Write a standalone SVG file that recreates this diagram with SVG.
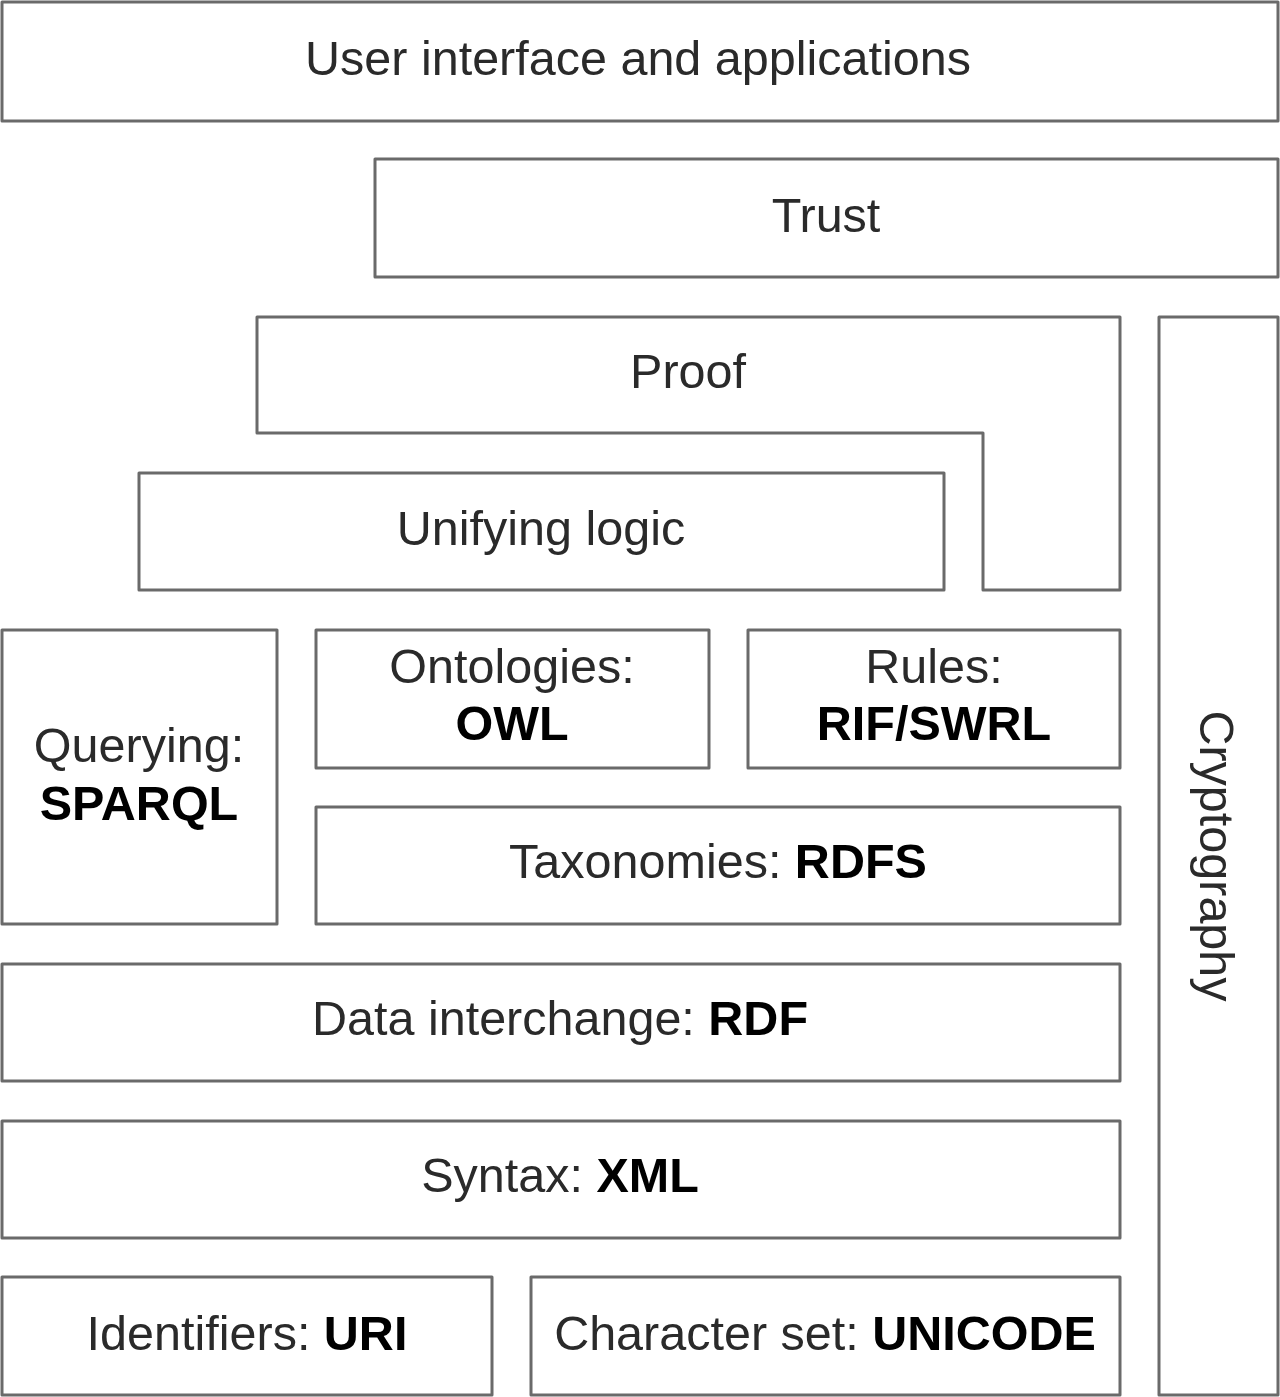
<svg xmlns="http://www.w3.org/2000/svg" width="1280" height="1397" viewBox="0 0 1280 1397">
<style>
.b{fill:#fff;stroke:#6a6a6a;stroke-width:3;stroke-linejoin:round}
text{font-family:"Liberation Sans",Arial,sans-serif;font-size:48.5px;fill:#2a2a2a;text-anchor:middle}
.k{font-weight:bold;fill:#000}
</style>
<rect width="1280" height="1397" fill="#fff"/>
<g id="ui"><rect class="b" x="2" y="2" width="1276" height="119"/><text x="638" y="75">User interface and applications</text></g>
<g id="trust"><rect class="b" x="375" y="159" width="903" height="118"/><text x="826" y="232">Trust</text></g>
<g id="proof"><path class="b" d="M257,317 H1120 V590 H983 V433 H257 Z"/><text x="688" y="388">Proof</text></g>
<g id="logic"><rect class="b" x="139" y="473" width="805" height="117"/><text x="541" y="545">Unifying logic</text></g>
<g id="crypto"><rect class="b" x="1159" y="317" width="119" height="1078"/><text transform="translate(1200,856) rotate(90)">Cryptography</text></g>
<g id="query"><rect class="b" x="2" y="630" width="275" height="294"/><text x="139" y="762">Querying:</text><text class="k" x="139" y="820">SPARQL</text></g>
<g id="owl"><rect class="b" x="316" y="630" width="393" height="138"/><text x="512" y="683">Ontologies:</text><text class="k" x="512" y="740">OWL</text></g>
<g id="rules"><rect class="b" x="748" y="630" width="372" height="138"/><text x="934" y="683">Rules:</text><text class="k" x="934" y="740">RIF/SWRL</text></g>
<g id="rdfs"><rect class="b" x="316" y="807" width="804" height="117"/><text x="718" y="878">Taxonomies: <tspan class="k">RDFS</tspan></text></g>
<g id="rdf"><rect class="b" x="2" y="964" width="1118" height="117"/><text x="560" y="1035">Data interchange: <tspan class="k">RDF</tspan></text></g>
<g id="xml"><rect class="b" x="2" y="1121" width="1118" height="117"/><text x="560" y="1192">Syntax: <tspan class="k">XML</tspan></text></g>
<g id="uri"><rect class="b" x="2" y="1277" width="490" height="118"/><text x="247" y="1350">Identifiers: <tspan class="k">URI</tspan></text></g>
<g id="unicode"><rect class="b" x="531" y="1277" width="589" height="118"/><text x="825" y="1350">Character set: <tspan class="k">UNICODE</tspan></text></g>
<g id="connectors"/>
</svg>
